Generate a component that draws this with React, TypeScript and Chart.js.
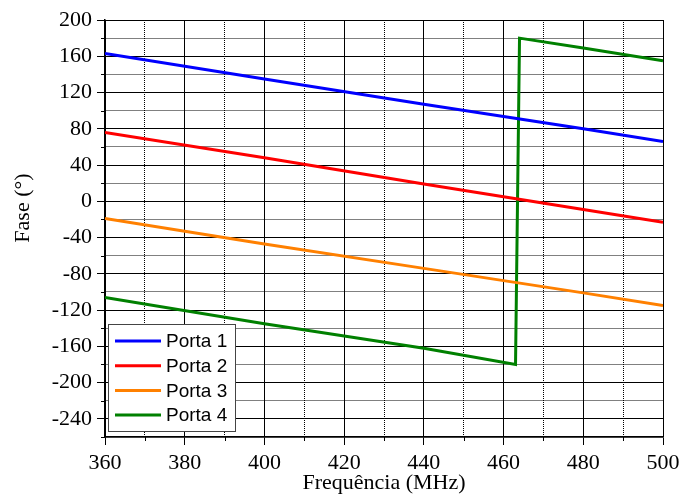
import React, { useEffect, useRef } from "react";
import { Chart, registerables } from "chart.js";
Chart.register(...registerables);

// ---- Data ----
const FREQ = [360, 400, 440, 480, 500];
const PORTA_1 = [163, 135, 107, 80, 66];
const PORTA_2 = [76, 48, 19, -9, -23];
const PORTA_3 = [-19, -47, -74, -101, -115];
const FREQ_4 = [360, 400, 440, 463, 464, 480, 500];
const PORTA_4 = [-106, -135, -162, -180, 180, 169, 155];

const SERIES_LABELS = ["Porta 1", "Porta 2", "Porta 3", "Porta 4"];
const SERIES_COLORS = ["#0000ff", "#ff0000", "#ff8000", "#008000"];

const X_MAJOR = [360, 380, 400, 420, 440, 460, 480, 500];
const X_MINOR = [370, 390, 410, 430, 450, 470, 490];
const Y_MAJOR = [200, 160, 120, 80, 40, 0, -40, -80, -120, -160, -200, -240];
const Y_MINOR = [180, 140, 100, 60, 20, -20, -60, -100, -140, -180, -220, -260];

const X_TITLE = "Frequência (MHz)";
const Y_TITLE = "Fase (°)";

const SERIF = "'Liberation Serif', 'Times New Roman', serif";
const SANS = "'Liberation Sans', Arial, sans-serif";

const toPoints = (xs: number[], ys: number[]) => xs.map((x, i) => ({ x, y: ys[i] }));

const isMajorX = (v: number) => X_MAJOR.includes(v);
const isMajorY = (v: number) => Y_MAJOR.includes(v);

const customPlugin = {
  id: "customDecor",
  afterDraw(chart: any) {
    const ctx = chart.ctx;
    const xs = chart.scales.x;
    const ys = chart.scales.y;
    ctx.save();
    // minor ticks
    ctx.strokeStyle = "#000";
    ctx.lineWidth = 1;
    X_MINOR.forEach((v) => {
      const px = Math.round(xs.getPixelForValue(v)) + 0.5;
      ctx.beginPath();
      ctx.moveTo(px, ys.bottom);
      ctx.lineTo(px, ys.bottom + 4);
      ctx.stroke();
    });
    Y_MINOR.forEach((v) => {
      const py = Math.round(ys.getPixelForValue(v)) + 0.5;
      ctx.beginPath();
      ctx.moveTo(xs.left, py);
      ctx.lineTo(xs.left - 4, py);
      ctx.stroke();
    });

    // y title
    ctx.save();
    ctx.translate(23, 208);
    ctx.rotate(-Math.PI / 2);
    ctx.font = `22px ${SERIF}`;
    ctx.fillStyle = "#000";
    ctx.textAlign = "center";
    ctx.textBaseline = "middle";
    ctx.fillText(Y_TITLE, 0, 0);
    ctx.restore();

    // legend
    const bx = 108.5, by = 324.5, bw = 127, bh = 107;
    ctx.fillStyle = "#fff";
    ctx.fillRect(bx, by, bw, bh);
    ctx.strokeStyle = "#444";
    ctx.lineWidth = 1;
    ctx.strokeRect(bx, by, bw, bh);
    ctx.font = `19px ${SANS}`;
    ctx.textAlign = "left";
    ctx.textBaseline = "middle";
    chart.data.datasets.forEach((ds: any, i: number) => {
      const y = 341 + i * 24.7;
      ctx.strokeStyle = ds.borderColor;
      ctx.lineWidth = 3;
      ctx.beginPath();
      ctx.moveTo(115, y);
      ctx.lineTo(161, y);
      ctx.stroke();
      ctx.fillStyle = "#000";
      ctx.fillText(ds.label, 166, y + 1);
    });
    ctx.restore();
  },
};

export default function App() {
  const ref = useRef<HTMLCanvasElement | null>(null);
  useEffect(() => {
    if (!ref.current) return;
    const series = [
      toPoints(FREQ, PORTA_1),
      toPoints(FREQ, PORTA_2),
      toPoints(FREQ, PORTA_3),
      toPoints(FREQ_4, PORTA_4),
    ];
    const chart = new Chart(ref.current, {
      type: "line",
      data: {
        datasets: series.map((data, i) => ({
          label: SERIES_LABELS[i],
          data,
          borderColor: SERIES_COLORS[i],
          backgroundColor: SERIES_COLORS[i],
          borderWidth: 3,
          pointRadius: 0,
          tension: 0,
          fill: false,
        })),
      },
      options: {
        responsive: false,
        animation: false,
        devicePixelRatio: 1,
        layout: { padding: { left: 0, top: 20, right: 19, bottom: 0 } },
        plugins: { legend: { display: false }, tooltip: { enabled: false } },
        scales: {
          x: {
            type: "linear",
            min: 360,
            max: 500,
            afterBuildTicks: (scale: any) => {
              scale.ticks = [...X_MAJOR, ...X_MINOR].sort((a, b) => a - b).map((v) => ({ value: v }));
            },
            afterFit: (scale: any) => {
              scale.height = 64;
              scale.paddingLeft = 0;
              scale.paddingRight = 0;
            },
            ticks: {
              autoSkip: false,
              maxRotation: 0,
              padding: 5,
              color: "#000",
              font: { family: SERIF, size: 22 },
              callback: (v: any) => (isMajorX(Number(v)) ? String(v) : ""),
            },
            grid: {
              color: "#000",
              lineWidth: 1,
              drawTicks: true,
              tickLength: 8,
              tickWidth: 1,
              tickColor: (c: any) => (c.tick && isMajorX(c.tick.value) ? "#000" : "rgba(0,0,0,0)"),
            },
            border: {
              display: true,
              color: "#000",
              width: 1.5,
              dash: (c: any) => (c.tick && !isMajorX(c.tick.value) ? [1, 1] : []),
            },
            title: {
              display: true,
              text: X_TITLE,
              color: "#000",
              font: { family: SERIF, size: 22 },
              padding: { top: 0, bottom: 5 },
            },
          },
          y: {
            type: "linear",
            min: -260,
            max: 200,
            afterBuildTicks: (scale: any) => {
              scale.ticks = [...Y_MAJOR, ...Y_MINOR].sort((a, b) => a - b).map((v) => ({ value: v }));
            },
            afterFit: (scale: any) => {
              scale.width = 105;
              scale.paddingTop = 0;
              scale.paddingBottom = 0;
            },
            ticks: {
              autoSkip: false,
              padding: 5,
              color: "#000",
              font: { family: SERIF, size: 22 },
              callback: (v: any) => (isMajorY(Number(v)) ? String(v) : ""),
            },
            grid: {
              color: "#000",
              lineWidth: 1,
              drawTicks: true,
              tickLength: 8,
              tickWidth: 1,
              tickColor: (c: any) => (c.tick && isMajorY(c.tick.value) ? "#000" : "rgba(0,0,0,0)"),
            },
            border: {
              display: true,
              color: "#000",
              width: 1.5,
              dash: (c: any) => (c.tick && !isMajorY(c.tick.value) ? [1, 1] : []),
            },
          },
        },
      },
      plugins: [customPlugin],
    } as any);
    return () => chart.destroy();
  }, []);

  return (
    <div style={{ position: "absolute", left: 0, top: 0, width: 682, height: 501 }}>
      <canvas ref={ref} width={682} height={501} style={{ display: "block" }} />
    </div>
  );
}
